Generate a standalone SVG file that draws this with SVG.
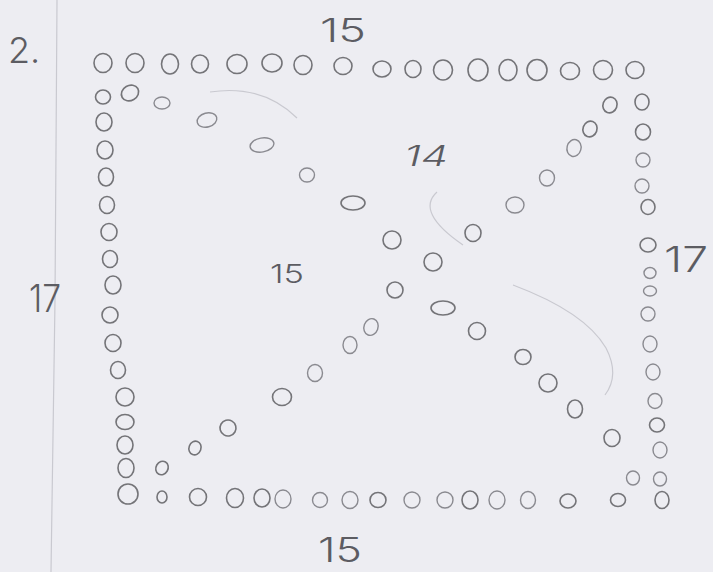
<svg xmlns="http://www.w3.org/2000/svg" width="713" height="572" viewBox="0 0 713 572">
<style>
.c{fill:none;stroke:#747478;stroke-width:1.6}
.d{fill:none;stroke:#8a8a90;stroke-width:1.4}
.f{fill:none;stroke:#c9c9d0;stroke-width:1.2}
.t{font-family:"Inter","Lato","Liberation Sans",sans-serif;font-weight:300;fill:#5c5c62}
</style>
<rect x="0" y="0" width="713" height="572" fill="#ededf2"/>
<path class="f" d="M57,0 L55,300 L51,572" stroke="#dcdce2"/>
<g id="faint-arcs">
<path class="f" d="M210,92 Q262,84 297,118"/>
<path class="f" d="M437,192 Q415,212 463,245"/>
<path class="f" d="M513,285 Q585,312 606,348 Q620,375 605,395"/>
</g>
<g id="labels">
<text class="t" x="8" y="63" font-size="36">2.</text>
<text class="t" x="320" y="42" font-size="32" textLength="46" lengthAdjust="spacingAndGlyphs">15</text>
<text class="t" x="404" y="166" font-size="28" font-style="italic" textLength="44" lengthAdjust="spacingAndGlyphs" fill="#3c3c42">14</text>
<text class="t" x="270" y="283" font-size="26" textLength="34" lengthAdjust="spacingAndGlyphs">15</text>
<text class="t" x="29" y="312" font-size="38" textLength="32" lengthAdjust="spacingAndGlyphs">17</text>
<text class="t" x="664" y="272" font-size="36" textLength="44" lengthAdjust="spacingAndGlyphs">17</text>
<text class="t" x="318" y="562" font-size="34" textLength="44" lengthAdjust="spacingAndGlyphs">15</text>
</g>
<g id="top-row">
<ellipse class="c" cx="103" cy="63" rx="9" ry="9.5"/>
<ellipse class="c" cx="135" cy="63" rx="9" ry="9.5"/>
<ellipse class="c" cx="170" cy="64" rx="8.5" ry="10"/>
<ellipse class="c" cx="200" cy="64" rx="8.5" ry="9"/>
<ellipse class="c" cx="237" cy="64" rx="10" ry="9.5"/>
<ellipse class="c" cx="272" cy="63" rx="10" ry="9"/>
<ellipse class="c" cx="303" cy="65" rx="9" ry="9.5"/>
<ellipse class="c" cx="343" cy="66" rx="9" ry="8.5"/>
<ellipse class="c" cx="382" cy="69" rx="9" ry="8"/>
<ellipse class="c" cx="413" cy="69" rx="8" ry="8.5"/>
<ellipse class="c" cx="443" cy="70" rx="9.5" ry="10"/>
<ellipse class="c" cx="478" cy="70" rx="10" ry="11"/>
<ellipse class="c" cx="508" cy="70" rx="9" ry="10.5"/>
<ellipse class="c" cx="537" cy="70" rx="10" ry="10.5"/>
<ellipse class="c" cx="570" cy="71" rx="9.5" ry="8.5"/>
<ellipse class="c" cx="603" cy="70" rx="9.5" ry="9.5"/>
<ellipse class="c" cx="635" cy="70" rx="9" ry="8.5"/>
</g>
<g id="left-column">
<ellipse class="c" cx="103" cy="97" rx="7.5" ry="7"/>
<ellipse class="c" cx="130" cy="93" rx="9" ry="7.5" transform="rotate(-30 130 93)"/>
<ellipse class="d" cx="162" cy="103" rx="8" ry="6"/>
<ellipse class="c" cx="104" cy="122" rx="8" ry="9"/>
<ellipse class="c" cx="105" cy="150" rx="8" ry="9"/>
<ellipse class="c" cx="106" cy="177" rx="7.5" ry="9"/>
<ellipse class="c" cx="107" cy="205" rx="7.5" ry="8.5"/>
<ellipse class="c" cx="109" cy="232" rx="8" ry="8.5"/>
<ellipse class="c" cx="110" cy="259" rx="7.5" ry="8.5"/>
<ellipse class="c" cx="113" cy="285" rx="8" ry="9"/>
<ellipse class="c" cx="110" cy="315" rx="8" ry="8"/>
<ellipse class="c" cx="113" cy="343" rx="8" ry="8.5"/>
<ellipse class="c" cx="118" cy="370" rx="7.5" ry="8.5"/>
<ellipse class="c" cx="125" cy="397" rx="9" ry="9"/>
<ellipse class="c" cx="125" cy="422" rx="9" ry="7.5"/>
<ellipse class="c" cx="125" cy="445" rx="8" ry="9"/>
<ellipse class="c" cx="126" cy="468" rx="8" ry="9.5"/>
</g>
<g id="bottom-row">
<ellipse class="c" cx="128" cy="494" rx="10" ry="10"/>
<ellipse class="c" cx="162" cy="497" rx="5" ry="6"/>
<ellipse class="c" cx="198" cy="497" rx="8.5" ry="8.5"/>
<ellipse class="c" cx="235" cy="498" rx="8.5" ry="9.5"/>
<ellipse class="c" cx="262" cy="498" rx="8" ry="9"/>
<ellipse class="d" cx="283" cy="499" rx="8" ry="9"/>
<ellipse class="d" cx="320" cy="500" rx="7.5" ry="7.5"/>
<ellipse class="d" cx="350" cy="500" rx="8" ry="8.5"/>
<ellipse class="c" cx="378" cy="500" rx="8" ry="7.5"/>
<ellipse class="d" cx="412" cy="500" rx="8" ry="8"/>
<ellipse class="d" cx="445" cy="500" rx="8" ry="8"/>
<ellipse class="c" cx="470" cy="500" rx="8" ry="9"/>
<ellipse class="d" cx="497" cy="500" rx="8" ry="9"/>
<ellipse class="d" cx="528" cy="500" rx="7.5" ry="8.5"/>
<ellipse class="c" cx="568" cy="501" rx="8" ry="7"/>
<ellipse class="c" cx="618" cy="500" rx="7.5" ry="6.5"/>
<ellipse class="c" cx="662" cy="500" rx="7" ry="8.5"/>
</g>
<g id="right-column">
<ellipse class="c" cx="610" cy="105" rx="7" ry="8" transform="rotate(20 610 105)"/>
<ellipse class="c" cx="642" cy="102" rx="7" ry="8"/>
<ellipse class="c" cx="643" cy="132" rx="7.5" ry="8"/>
<ellipse class="d" cx="643" cy="160" rx="7" ry="7"/>
<ellipse class="d" cx="642" cy="186" rx="7" ry="7"/>
<ellipse class="c" cx="648" cy="207" rx="7" ry="7.5"/>
<ellipse class="c" cx="648" cy="245" rx="8" ry="7"/>
<ellipse class="d" cx="650" cy="273" rx="6" ry="5.5"/>
<ellipse class="d" cx="650" cy="291" rx="6.5" ry="5"/>
<ellipse class="d" cx="648" cy="314" rx="7" ry="7"/>
<ellipse class="d" cx="650" cy="344" rx="7" ry="8"/>
<ellipse class="d" cx="653" cy="372" rx="7" ry="8"/>
<ellipse class="d" cx="655" cy="401" rx="7" ry="7.5"/>
<ellipse class="c" cx="657" cy="425" rx="7.5" ry="7"/>
<ellipse class="d" cx="660" cy="450" rx="7" ry="8"/>
<ellipse class="d" cx="633" cy="478" rx="6.5" ry="7"/>
<ellipse class="d" cx="660" cy="479" rx="6.5" ry="7"/>
</g>
<g id="diagonal-1">
<ellipse class="d" cx="207" cy="120" rx="10" ry="7" transform="rotate(-15 207 120)"/>
<ellipse class="d" cx="262" cy="145" rx="12" ry="7" transform="rotate(-10 262 145)"/>
<ellipse class="d" cx="307" cy="175" rx="7.5" ry="7"/>
<ellipse class="c" cx="353" cy="203" rx="12" ry="7"/>
<ellipse class="c" cx="392" cy="240" rx="9" ry="9"/>
<ellipse class="c" cx="395" cy="290" rx="8" ry="8"/>
<ellipse class="c" cx="443" cy="308" rx="12" ry="7"/>
<ellipse class="c" cx="477" cy="331" rx="8.5" ry="8.5"/>
<ellipse class="c" cx="523" cy="357" rx="8" ry="7.5"/>
<ellipse class="c" cx="548" cy="383" rx="9" ry="9"/>
<ellipse class="c" cx="575" cy="409" rx="7.5" ry="9"/>
<ellipse class="c" cx="612" cy="438" rx="8" ry="8.5"/>
</g>
<g id="diagonal-2">
<ellipse class="c" cx="162" cy="468" rx="6" ry="7" transform="rotate(30 162 468)"/>
<ellipse class="c" cx="195" cy="448" rx="6" ry="7" transform="rotate(20 195 448)"/>
<ellipse class="c" cx="228" cy="428" rx="8" ry="8" transform="rotate(30 228 428)"/>
<ellipse class="c" cx="282" cy="397" rx="9.5" ry="8.5"/>
<ellipse class="d" cx="315" cy="373" rx="7.5" ry="8.5"/>
<ellipse class="d" cx="350" cy="345" rx="7" ry="8.5"/>
<ellipse class="d" cx="371" cy="327" rx="7" ry="8.5" transform="rotate(20 371 327)"/>
<ellipse class="c" cx="433" cy="262" rx="9" ry="9"/>
<ellipse class="c" cx="473" cy="233" rx="8" ry="8.5"/>
<ellipse class="d" cx="515" cy="205" rx="9" ry="8"/>
<ellipse class="d" cx="547" cy="178" rx="7.5" ry="8"/>
<ellipse class="d" cx="574" cy="148" rx="7" ry="8.5" transform="rotate(15 574 148)"/>
<ellipse class="c" cx="590" cy="129" rx="7" ry="8" transform="rotate(20 590 129)"/>
</g>
</svg>
